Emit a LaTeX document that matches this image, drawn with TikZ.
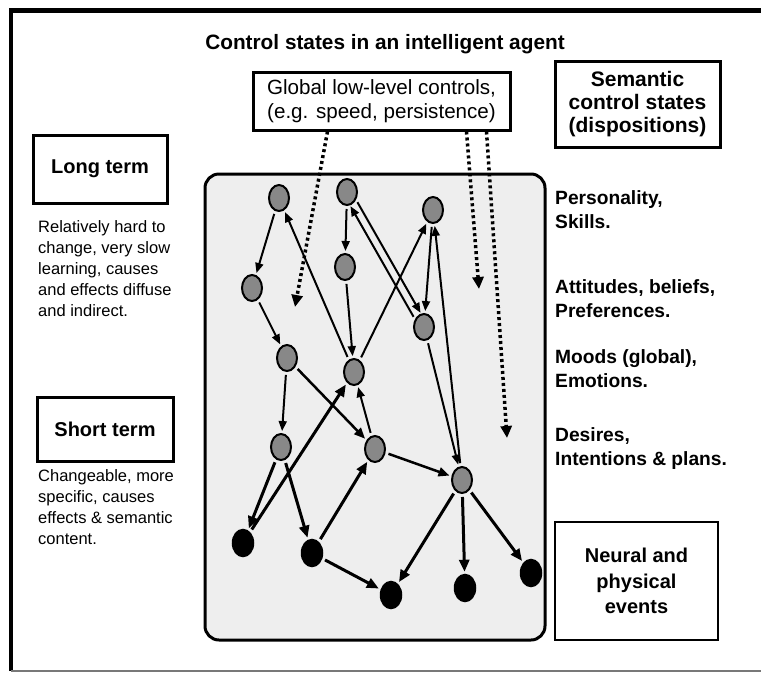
\documentclass[tikz,border=0pt]{standalone}
\usepackage{fontspec}
\setmainfont{Liberation Sans}
\usetikzlibrary{arrows.meta,calc,shapes.geometric}
\definecolor{nodegrey}{RGB}{136,136,136}
\definecolor{boxgrey}{RGB}{238,238,238}
\definecolor{framegrey}{RGB}{120,120,120}
\begin{document}
\begin{tikzpicture}[x=1pt,y=-1pt,
  gnode/.style={ellipse, draw=black, line width=2pt, fill=nodegrey, minimum width=20pt, minimum height=26pt, inner sep=0pt},
  bnode/.style={ellipse, draw=black, line width=1.5pt, fill=black, minimum width=21pt, minimum height=27pt, inner sep=0pt},
  arr/.style={line width=2pt, -{Triangle[length=10pt,width=8pt]}, shorten >=2pt, shorten <=3pt},
  marr/.style={line width=2.5pt, -{Triangle[length=11pt,width=9pt]}, shorten >=2pt, shorten <=3pt},
  tarr/.style={line width=3pt, -{Triangle[length=12pt,width=10pt]}, shorten >=2pt, shorten <=3pt},
  dotarr/.style={line width=3.5pt, dash pattern=on 3pt off 3pt, -{Triangle[length=12pt,width=11pt]}},
  labelbox/.style={draw=black, line width=3pt, inner sep=0pt, align=center},
  boldtxt/.style={font=\fontsize{20}{23}\selectfont\bfseries},
  sidetxt/.style={anchor=north west, inner sep=0pt, align=left, font=\fontsize{19.2}{24}\selectfont\bfseries},
  desctxt/.style={anchor=north west, inner sep=0pt, align=left, font=\fontsize{16.5}{21}\selectfont}
]
\useasboundingbox (0,0) rectangle (761,673);
% outer frame
\draw[line width=4.5pt] (11,671) -- (11,10.5) -- (761,10.5);
\draw[line width=1.2pt, framegrey] (11,671) -- (761,671);

% title
\node[font=\fontsize{20.8}{24}\selectfont\bfseries] (title) at (385,44) {Control states in an intelligent agent};

% top boxes
\node[labelbox, minimum width=257pt, minimum height=58pt, font=\fontsize{20.6}{24}\selectfont] (glob) at (381.5,101) {Global low-level controls,\\(e.g. speed, persistence)};
\node[labelbox, minimum width=165pt, minimum height=86pt, font=\fontsize{21}{23}\selectfont\bfseries] (sem) at (637.5,104) {Semantic\\control states\\(dispositions)};

% left side
\node[labelbox, boldtxt, minimum width=134pt, minimum height=68pt] (long) at (100,169) {Long term};
\node[desctxt] (longd) at (38,220) {Relatively hard to\\change, very slow\\learning, causes\\and effects diffuse\\and indirect.};
\node[labelbox, boldtxt, minimum width=136pt, minimum height=64pt] (short) at (105,429) {Short term};
\node[desctxt] (shortd) at (38,469) {Changeable, more\\specific, causes\\effects \& semantic\\content.};

% right side
\node[sidetxt] (pers) at (555,190) {Personality,\\Skills.};
\node[sidetxt] (att) at (555,279) {Attitudes, beliefs,\\Preferences.};
\node[sidetxt] (mood) at (555,349) {Moods (global),\\Emotions.};
\node[sidetxt] (des) at (555,427) {Desires,\\Intentions \& plans.};
\node[labelbox, line width=2.5pt, minimum width=163pt, minimum height=118pt, font=\fontsize{20}{25.5}\selectfont\bfseries] (neural) at (636.5,581) {Neural and\\physical\\events};

% central container
\node[draw=black, line width=3pt, fill=boxgrey, rounded corners=14pt, minimum width=340pt, minimum height=466pt, inner sep=0pt] (mind) at (375,407) {};

% state nodes
\node[gnode] (A) at (279,198) {};
\node[gnode] (B) at (347,192) {};
\node[gnode] (C) at (345,267) {};
\node[gnode] (D) at (252,288) {};
\node[gnode] (E) at (287,358) {};
\node[gnode] (F) at (433,210) {};
\node[gnode] (G) at (424,327) {};
\node[gnode] (H) at (354,372) {};
\node[gnode] (I) at (281,447) {};
\node[gnode] (J) at (375,449) {};
\node[gnode] (M) at (462,480) {};
\node[bnode] (K) at (243,543) {};
\node[bnode] (L) at (312,553) {};
\node[bnode] (N) at (391,595) {};
\node[bnode] (O) at (465,588) {};
\node[bnode] (P) at (531,573) {};

% connectors
\draw[arr] (A) -- (D);
\draw[arr] (D) -- (E);
\draw[arr] (H) -- (A);
\draw[arr] (B) -- (C);
\draw[arr] (C) -- (H);
\draw[arr, shorten >=14pt, shorten <=14pt] ($(B)!4pt!90:(G)$) -- ($(G)!4pt!-90:(B)$);
\draw[arr, shorten >=14pt, shorten <=14pt] ($(G)!4pt!90:(B)$) -- ($(B)!4pt!-90:(G)$);
\draw[arr] (H) -- (F);
\draw[arr] (F) -- (G);
\draw[arr] (M) -- (F);
\draw[arr] (G) -- (M);
\draw[arr] (E) -- (I);
\draw[marr] (E) -- (J);
\draw[arr] (J) -- (H);
\draw[tarr] (K) -- (H);
\draw[tarr] (I) -- (K);
\draw[tarr] (I) -- (L);
\draw[tarr] (L) -- (J);
\draw[tarr] (L) -- (N);
\draw[marr] (J) -- (M);
\draw[tarr] (M) -- (N);
\draw[tarr] (M) -- (O);
\draw[tarr] (M) -- (P);

% dotted global influences
\coordinate (d1) at (295,307);
\coordinate (d2) at (479,289);
\coordinate (d3) at (507,438);
\draw[dotarr] ([xshift=76pt]glob.south west) -- (d1);
\draw[dotarr] ([xshift=215pt]glob.south west) -- (d2);
\draw[dotarr] ([xshift=235pt]glob.south west) -- (d3);
\end{tikzpicture}
\end{document}
